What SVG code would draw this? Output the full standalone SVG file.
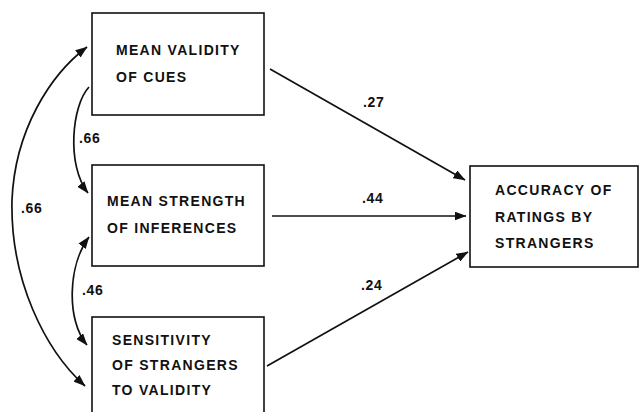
<svg xmlns="http://www.w3.org/2000/svg" width="641" height="412" viewBox="0 0 641 412">
<defs>
<style>
.box{fill:#fff;stroke:#111;stroke-width:1.6}
.t{font-family:"Liberation Sans",Arial,sans-serif;font-weight:bold;font-size:14px;letter-spacing:1.3px;fill:#111}
.n{letter-spacing:0.6px}
.c{fill:none;stroke:#111;stroke-width:1.7}
</style>
<marker id="ah" viewBox="0 0 12 9" refX="11.5" refY="4.5" markerUnits="userSpaceOnUse" markerWidth="12" markerHeight="9" orient="auto-start-reverse">
<path d="M0,0 L12,4.5 L0,9 z" fill="#111"/>
</marker>
</defs>
<rect width="641" height="412" fill="#fff"/>
<g id="connectors">
<path class="c" d="M270 69 L465 180" marker-end="url(#ah)"/>
<text class="t n" x="363" y="107">.27</text>
<path class="c" d="M272 216 L466 216" marker-end="url(#ah)"/>
<text class="t n" x="362" y="203">.44</text>
<path class="c" d="M267 366 L468 252" marker-end="url(#ah)"/>
<text class="t n" x="361" y="290">.24</text>
<path class="c" d="M89 87 C72 105 66 165 88 193" marker-end="url(#ah)"/>
<text class="t n" x="79" y="143">.66</text>
<path class="c" d="M89 237 C68 265 66 320 87 345" marker-start="url(#ah)" marker-end="url(#ah)"/>
<text class="t n" x="82" y="295">.46</text>
<path class="c" d="M87 47 C50 75 15 130 12 200 C10 280 45 350 85 386" marker-start="url(#ah)" marker-end="url(#ah)"/>
<text class="t n" x="21" y="213">.66</text>
</g>
<g id="node-validity">
<rect class="box" x="92" y="13" width="172" height="102"/>
<text class="t" x="116" y="55">MEAN VALIDITY</text>
<text class="t" x="116" y="82">OF CUES</text>
</g>
<g id="node-strength">
<rect class="box" x="92" y="165" width="172" height="101"/>
<text class="t" x="107" y="206">MEAN STRENGTH</text>
<text class="t" x="107" y="233">OF INFERENCES</text>
</g>
<g id="node-sensitivity">
<rect class="box" x="92" y="317" width="172" height="110"/>
<text class="t" x="112" y="345">SENSITIVITY</text>
<text class="t" x="112" y="370">OF STRANGERS</text>
<text class="t" x="112" y="395">TO VALIDITY</text>
</g>
<g id="node-accuracy">
<rect class="box" x="470" y="166" width="168" height="101"/>
<text class="t" x="495" y="195">ACCURACY OF</text>
<text class="t" x="495" y="222">RATINGS BY</text>
<text class="t" x="495" y="248">STRANGERS</text>
</g>
</svg>
